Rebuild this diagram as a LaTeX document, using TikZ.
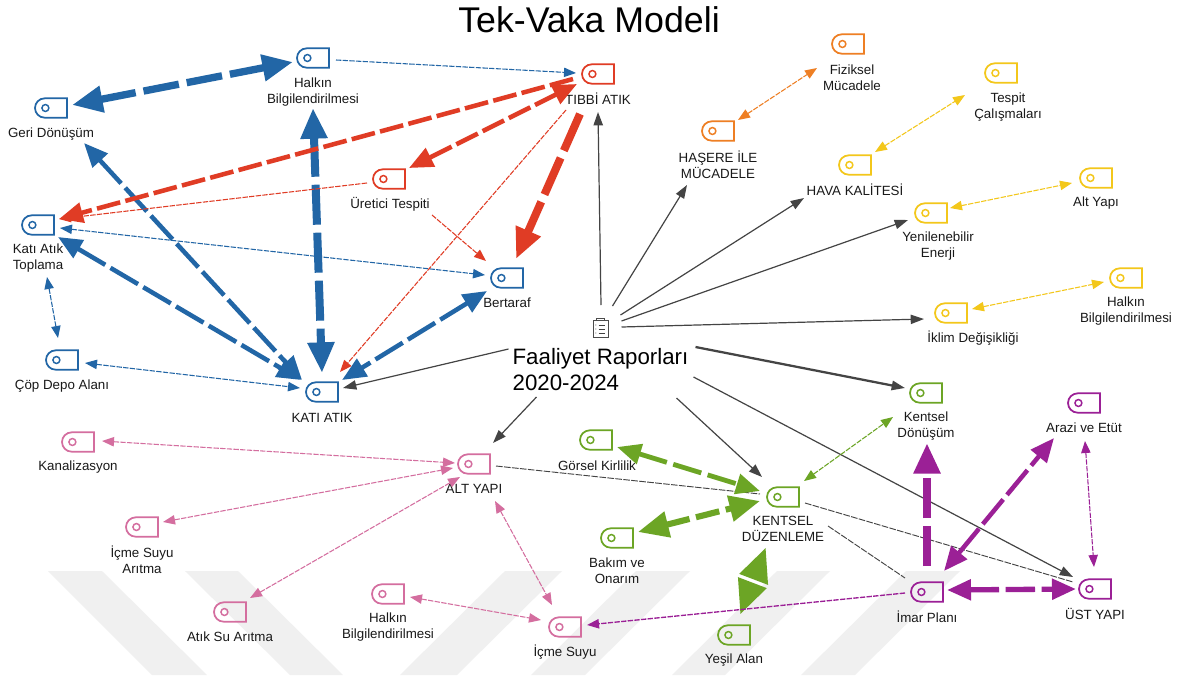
\documentclass[tikz,border=0pt]{standalone}
\usepackage{fontspec}
\setmainfont{Liberation Sans}
\usetikzlibrary{arrows.meta,shapes.misc}
\definecolor{cblue}{HTML}{2266A6}
\definecolor{cred}{HTML}{E03C25}
\definecolor{corange}{HTML}{EE7F24}
\definecolor{cyellow}{HTML}{F3C71B}
\definecolor{cgreen}{HTML}{6CA525}
\definecolor{cpurple}{HTML}{9B2096}
\definecolor{cpink}{HTML}{D46E9F}
\definecolor{cgray}{HTML}{444444}
\definecolor{cwm}{HTML}{F0F0F0}
\tikzset{
  ts/.tip={Triangle[length=9pt,width=7pt]},
  tm/.tip={Triangle[length=18pt,width=15pt]},
  tl/.tip={Triangle[length=23pt,width=19pt]},
  tx/.tip={Triangle[length=26pt,width=21pt]},
  tagicon/.style={rounded rectangle,rounded rectangle right arc=none,draw=#1,line width=1.3pt,
    minimum width=24pt,minimum height=14.5pt,inner sep=0pt,
    path picture={\draw[#1,line width=1.1pt] ([xshift=-4.2pt]path picture bounding box.center) circle (2.6pt);}},
  lab/.style={align=center,inner sep=0pt,text=black!90,font=\fontsize{10}{11.7}\selectfont},
  lv1/.style={line width=.8pt,dash pattern=on 4pt off 1pt},
  lv2/.style={line width=3.4pt,dash pattern=on 24pt off 4.5pt},
  lv3/.style={line width=4pt,dash pattern=on 22pt off 5pt},
  lv4/.style={line width=5.5pt,dash pattern=on 30pt off 6pt},
  solidg/.style={cgray,line width=.9pt,-{Triangle[length=10pt,width=7pt]}},
  dashg/.style={cgray,line width=.7pt,dash pattern=on 5pt off 1pt},
}
\newcommand{\cn}[5]{\draw[#1] ([shift={(#3)}]#2.center) -- ([shift={(#5)}]#4.center);}
\newcommand{\ic}[3]{\node[tagicon=#3] (#1) at (#2) {};}
\begin{document}
\begin{tikzpicture}[x=.75pt,y=-.75pt]
\useasboundingbox (0,0) rectangle (1180,675);
\fill[white] (0,0) rectangle (1180,675);
% watermark bands
\fill[cwm] (48,571) -- (102,571) -- (207,675) -- (152,675) -- cycle;
\fill[cwm] (185,571) -- (238,571) -- (343,675) -- (290,675) -- cycle;
\fill[cwm] (505,571) -- (562,571) -- (457,675) -- (400,675) -- cycle;
\fill[cwm] (636,571) -- (690,571) -- (585,675) -- (531,675) -- cycle;
\fill[cwm] (777,571) -- (830,571) -- (725,675) -- (672,675) -- cycle;
\fill[cwm] (906,571) -- (960,571) -- (855,675) -- (801,675) -- cycle;
% title
\node[inner sep=0pt,font=\fontsize{26.8}{30}\selectfont] (title) at (589,20) {Tek-Vaka Modeli};
% icons
\ic{hb}{313,58}{cblue} \ic{gd}{51,108}{cblue} \ic{ka}{38,225}{cblue} \ic{cd}{62,360}{cblue}
\ic{kat}{322,392}{cblue} \ic{ber}{507,278}{cblue}
\ic{tib}{598,74}{cred} \ic{ur}{389,179}{cred}
\ic{fiz}{848,44}{corange} \ic{has}{718,131}{corange}
\ic{tes}{1001,73}{cyellow} \ic{hav}{855,165}{cyellow} \ic{yen}{931,213}{cyellow}
\ic{alty}{1096,178}{cyellow} \ic{halb}{1126,278}{cyellow} \ic{ikl}{951,313}{cyellow}
\ic{kdo}{926,393}{cgreen} \ic{gor}{596,440}{cgreen} \ic{kdu}{783,497}{cgreen}
\ic{bak}{617,538}{cgreen} \ic{yes}{734,635}{cgreen}
\ic{ara}{1084,403}{cpurple} \ic{ima}{927,592}{cpurple} \ic{ust}{1095,589}{cpurple}
\ic{kan}{78,442}{cpink} \ic{aly}{474,464}{cpink} \ic{isa}{142,527}{cpink}
\ic{asa}{230,612}{cpink} \ic{halc}{388,594}{cpink} \ic{isu}{565,627}{cpink}
% labels
\node[lab] (hbL) at (313,92) {Halkın\\Bilgilendirilmesi};
\node[lab] (gdL) at (51,134) {Geri Dönüşüm};
\node[lab] (kaL) at (38,258) {Katı Atık\\Toplama};
\node[lab] (cdL) at (62,386) {Çöp Depo Alanı};
\node[lab] (katL) at (322,418) {KATI ATIK};
\node[lab] (berL) at (507,303) {Bertaraf};
\node[lab] (tibL) at (598,99) {TIBBİ ATIK};
\node[lab] (urL) at (390,204) {Üretici Tespiti};
\node[lab] (fizL) at (852,78) {Fiziksel\\Mücadele};
\node[lab] (hasL) at (718,165) {HAŞERE İLE\\MÜCADELE};
\node[lab] (tesL) at (1008,107) {Tespit\\Çalışmaları};
\node[lab] (havL) at (855,190) {HAVA KALİTESİ};
\node[lab] (yenL) at (938,246) {Yenilenebilir\\Enerji};
\node[lab] (altyL) at (1096,203) {Alt Yapı};
\node[lab] (halbL) at (1126,311) {Halkın\\Bilgilendirilmesi};
\node[lab] (iklL) at (973,338) {İklim Değişikliği};
\node[lab] (kdoL) at (926,426) {Kentsel\\Dönüşüm};
\node[lab] (gorL) at (597,466) {Görsel Kirlilik};
\node[lab] (kduL) at (783,529) {KENTSEL\\DÜZENLEME};
\node[lab] (bakL) at (617,571) {Bakım ve\\Onarım};
\node[lab] (yesL) at (734,660) {Yeşil Alan};
\node[lab] (araL) at (1084,428) {Arazi ve Etüt};
\node[lab] (imaL) at (927,617) {İmar Planı};
\node[lab] (ustL) at (1095,614) {ÜST YAPI};
\node[lab] (kanL) at (78,467) {Kanalizasyon};
\node[lab] (alyL) at (474,489) {ALT YAPI};
\node[lab] (isaL) at (142,560) {İçme Suyu\\Arıtma};
\node[lab] (asaL) at (230,637) {Atık Su Arıtma};
\node[lab] (halcL) at (388,627) {Halkın\\Bilgilendirilmesi};
\node[lab] (isuL) at (565,652) {İçme Suyu};
% centre
\node[draw=black!70,line width=.5pt,inner sep=0pt,minimum width=11pt,minimum height=13pt,
  path picture={\foreach \yy in {-3,0,3}{\draw[black!75,line width=.5pt] ([shift={(-1.5pt,\yy pt)}]path picture bounding box.center) -- ++(5pt,0);
    \fill[black!75] ([shift={(-3.5pt,\yy pt)}]path picture bounding box.center) circle (.4pt);}}] (doc) at (600.5,329) {};
\draw[black!70,line width=.5pt] ([shift={(-4,-8)}]doc.center) -- ++(0,-3) -- ++(8,0) -- ++(0,3);
\node[inner sep=0pt,align=left,font=\fontsize{16.7}{19.5}\selectfont] (fr) at (600.5,370) {Faaliyet Raporları\\2020-2024};
% blue
\cn{cblue,lv4,tl-tl,dash pattern=on 27pt off 6pt}{gd}{21,-3}{hb}{-20,4}
\cn{cblue,lv1,-ts}{hb}{23,2}{tib}{-22,-1}
\cn{cblue,lv2,tm-tm}{gd}{33,35}{kat}{-20,-12}
\cn{cblue,lv2,tm-tm}{ka}{20,12}{kat}{-21,-12}
\cn{cblue,lv1,ts-ts}{ka}{22,3}{ber}{-22,-3}
\cn{cblue,lv1,ts-ts}{ka}{9,52}{cd}{-4,-22}
\cn{cblue,lv1,ts-ts}{cd}{23,3}{kat}{-22,-4}
\cn{cblue,lv4,line width=6pt,tl-tl}{hb}{0,50}{kat}{0,-19}
\cn{cblue,lv2,tm-tm}{ber}{-20,13}{kat}{20,-12}
% red
\cn{cred,lv2,-tm,dash pattern=on 18pt off 4pt}{tib}{-25,5}{ka}{21,-6}
\cn{cred,lv2,tm-tm,dash pattern=on 18pt off 4pt}{tib}{-21,10}{ur}{20,-11}
\cn{cred,lv1,-ts}{ur}{-22,4}{ka}{21,-6}
\cn{cred,lv1,-ts}{ur}{43,36}{ber}{-21,-17}
\cn{cred,lv1,-ts}{tib}{-32,36}{kat}{18,-20}
\cn{cred,lv4,-tl,line width=6pt}{tib}{-18,40}{ber}{9,-19}
% grey from centre
\cn{solidg}{doc}{0.5,-24}{tib}{0,38}
\cn{solidg}{doc}{12,-23}{has}{-31,54}
\cn{solidg}{doc}{20,-14}{hav}{-51,33}
\cn{solidg}{doc}{21,-8}{yen}{-23,7}
\cn{solidg}{doc}{21,-2}{ikl}{-27,6}
\cn{solidg,line width=1.7pt}{fr}{95,-23}{kdo}{-21,-5}
\cn{solidg}{fr}{93,7}{ust}{-22,-12}
\cn{solidg}{fr}{76,28}{kdu}{-21,-20}
\cn{solidg}{fr}{-64,27}{aly}{19,-21}
\cn{solidg}{fr}{-92,-21}{kat}{21,-4}
\cn{dashg}{aly}{22,2}{kdu}{-23,-3}
\cn{dashg}{kdu}{22,6}{ust}{-22,-7}
\cn{dashg}{kdu}{45,29}{ima}{-22,-14}
% green
\cn{cgreen,lv3,line width=3.6pt,tm-tm}{gor}{21,7}{kdu}{-23,-6}
\cn{cgreen,lv3,line width=4.6pt,tl-tl,dash pattern=on 18pt off 5pt}{bak}{21,-6}{kdu}{-23,4}
\cn{cgreen,line width=8pt,tx-tx,dash pattern=on 0pt off 20pt}{kdu}{-17,50}{yes}{6,-20}
\cn{cgreen,lv1,ts-ts}{kdu}{21,-16}{kdo}{-33,24}
% purple
\cn{cpurple,lv4,-tl,line width=6pt}{ima}{0,-26}{kdo}{1,50}
\cn{cpurple,lv2,tm-tm}{ima}{17,-21}{ara}{-30,35}
\cn{cpurple,lv3,tm-tm}{ima}{20,-2}{ust}{-19,0}
\cn{cpurple,lv1,ts-ts}{ara}{1,38}{ust}{-1,-22}
\cn{cpurple,lv1,line width=1pt,-ts}{ima}{-22,1}{isu}{22,-2}
% pink
\cn{cpink,lv1,ts-ts}{kan}{24,-1}{aly}{-19,-1}
\cn{cpink,lv1,ts-ts}{isa}{21,-5}{aly}{-21,4}
\cn{cpink,lv1,ts-ts}{asa}{20,-14}{aly}{-14,13}
\cn{cpink,lv1,ts-ts}{aly}{21,37}{isu}{-13,-22}
\cn{cpink,lv1,ts-ts}{halc}{22,3}{isu}{-24,-7}
% orange and yellow
\cn{corange,lv1,ts-ts}{has}{20,-11}{fiz}{-31,24}
\cn{cyellow,lv1,ts-ts}{hav}{20,-13}{tes}{-36,22}
\cn{cyellow,lv1,ts-ts}{yen}{19,-5}{alty}{-24,5}
\cn{cyellow,lv1,ts-ts}{ikl}{21,-4}{halb}{-22,4}
\end{tikzpicture}
\end{document}
